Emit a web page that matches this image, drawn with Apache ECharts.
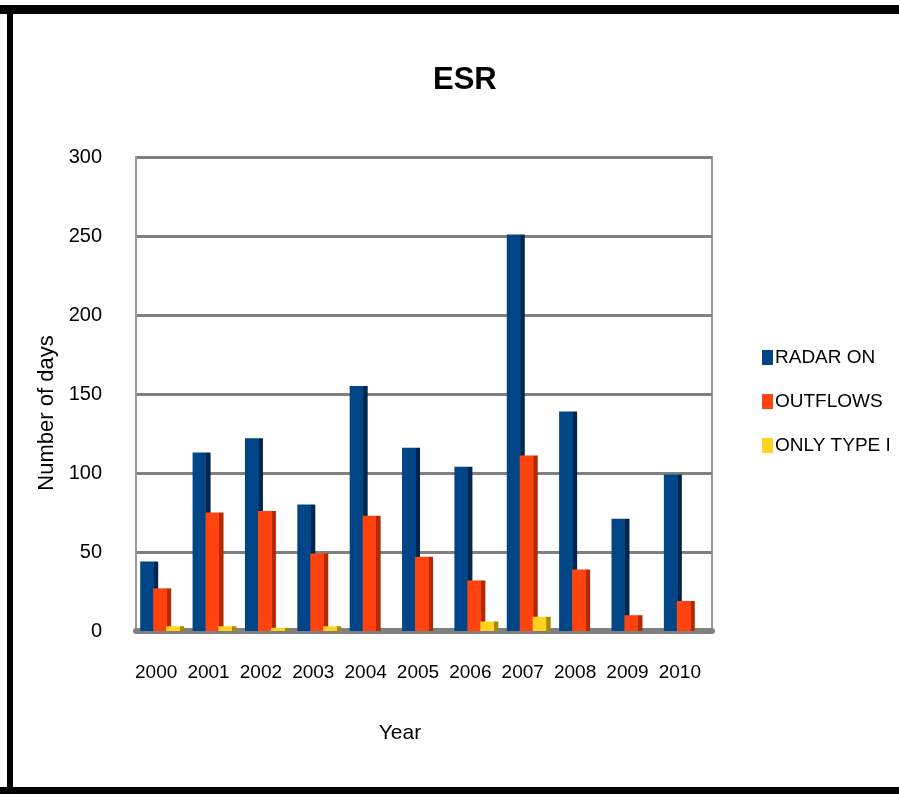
<!DOCTYPE html>
<html>
<head>
<meta charset="utf-8">
<script src="https://cdn.jsdelivr.net/npm/echarts@6/dist/echarts.min.js"></script>
<style>
html,body{margin:0;padding:0;background:#fff;}
#chart{width:899px;height:794px;}
</style>
</head>
<body>
<div id="chart"></div>
<script>
var years = ['2000','2001','2002','2003','2004','2005','2006','2007','2008','2009','2010'];
var radarOn = [44, 113, 122, 80, 155, 116, 104, 251, 139, 71, 99];
var outflows = [27, 75, 76, 49, 73, 47, 32, 111, 39, 10, 19];
var onlyTypeI = [3, 3, 2, 3, 0, 0, 6, 9, 0, 0, 0];
var yTicks = [0, 50, 100, 150, 200, 250, 300];

var FONT = '"Liberation Sans Narrow", "Arial Narrow", "Liberation Sans", Arial, sans-serif';

function grad(main, side) {
  return new echarts.graphic.LinearGradient(0, 0, 1, 0, [
    {offset: 0, color: main}, {offset: 0.76, color: main},
    {offset: 0.77, color: side}, {offset: 1, color: side}
  ]);
}

var chart = echarts.init(document.getElementById('chart'));
chart.setOption({
  animation: false,
  backgroundColor: '#ffffff',
  title: {
    text: 'ESR',
    left: 428, top: 60,
    textStyle: {fontFamily: FONT, fontSize: 31, fontWeight: 'bold', color: '#000'}
  },
  legend: {
    orient: 'vertical',
    left: 757, top: 343,
    itemWidth: 11, itemHeight: 15, itemGap: 25,
    icon: 'rect',
    textStyle: {fontFamily: FONT, fontSize: 19, color: '#000', padding: [0,0,0,-3]},
    data: [
      {name: 'RADAR ON', itemStyle: {color: '#004586'}},
      {name: 'OUTFLOWS', itemStyle: {color: '#ff420e'}},
      {name: 'ONLY TYPE I', itemStyle: {color: '#ffd320'}}
    ]
  },
  graphic: [
    {type: 'rect', shape: {x: 0, y: 5, width: 899, height: 9}, style: {fill: '#000'}, z: 100},
    {type: 'rect', shape: {x: 7, y: 5, width: 6, height: 789}, style: {fill: '#000'}, z: 100},
    {type: 'rect', shape: {x: 0, y: 787, width: 899, height: 7}, style: {fill: '#000'}, z: 100}
  ],
  grid: {
    left: 136, right: 187, top: 157, bottom: 163,
    show: true, borderColor: '#9a9a9a', borderWidth: 2
  },
  xAxis: {
    type: 'category',
    data: years,
    name: 'Year',
    nameLocation: 'middle',
    nameGap: 92,
    nameTextStyle: {fontFamily: FONT, fontSize: 21, color: '#000', padding: [0, 48, 0, 0]},
    axisLine: {show: true, lineStyle: {color: '#808080', width: 6}},
    axisTick: {show: false},
    axisLabel: {interval: 0, fontFamily: FONT, fontSize: 19, color: '#000', margin: 32, padding: [0, 12, 0, 0]}
  },
  yAxis: {
    type: 'value',
    min: 0, max: 300, interval: 50,
    name: 'Number of days',
    nameLocation: 'middle',
    nameGap: 66,
    nameTextStyle: {fontFamily: FONT, fontSize: 22, color: '#000', padding: [0, 38, 0, 0]},
    axisLine: {show: true, lineStyle: {color: '#9a9a9a', width: 2}},
    axisTick: {show: false},
    splitLine: {show: true, lineStyle: {color: '#808080', width: 3}},
    axisLabel: {
      fontFamily: FONT, fontSize: 20, color: '#000', margin: 34,
      formatter: function (v) { return yTicks.indexOf(v) >= 0 ? String(v) : ''; }
    }
  },
  series: [
    {name: 'RADAR ON', type: 'bar', data: radarOn, barWidth: 18, barGap: '-28%',
     itemStyle: {color: grad('#004586', '#00264d')}},
    {name: 'OUTFLOWS', type: 'bar', data: outflows, barWidth: 18, barGap: '-28%',
     itemStyle: {color: grad('#ff420e', '#b32a00')}},
    {name: 'ONLY TYPE I', type: 'bar', data: onlyTypeI, barWidth: 18, barGap: '-28%',
     itemStyle: {color: grad('#ffd320', '#a88a00')}}
  ]
});
</script>
</body>
</html>
